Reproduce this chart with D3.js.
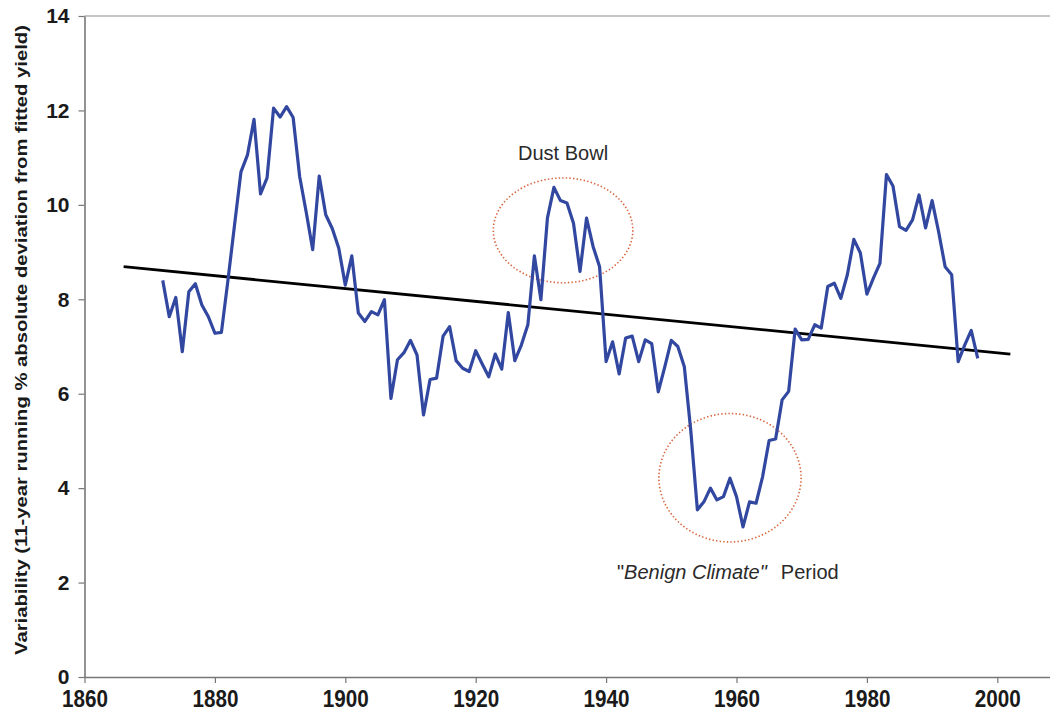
<!DOCTYPE html>
<html>
<head>
<meta charset="utf-8">
<script src="https://cdn.jsdelivr.net/npm/d3@7"></script>
<style>
  html, body { margin: 0; padding: 0; background: #ffffff; }
  svg { display: block; }
  text { font-family: Arial, "Liberation Sans", sans-serif; }
</style>
</head>
<body>
<svg id="chart" width="1050" height="723"></svg>
<script>
// Yield variability: 11-year running % absolute deviation from fitted yield
const years = d3.range(1872, 1998);
const variability = [
  8.40, 7.63, 8.04, 6.89, 8.16, 8.33, 7.88, 7.63, 7.28, 7.30,
  8.40, 9.56, 10.70, 11.06, 11.81, 10.23, 10.57, 12.05, 11.86, 12.08,
  11.85, 10.60, 9.85, 9.05, 10.61, 9.79, 9.50, 9.08, 8.30, 8.92,
  7.71, 7.53, 7.74, 7.67, 7.99, 5.90, 6.72, 6.87, 7.13, 6.82,
  5.55, 6.30, 6.33, 7.22, 7.42, 6.70, 6.54, 6.47, 6.91, 6.63,
  6.36, 6.84, 6.52, 7.72, 6.70, 7.03, 7.46, 8.92, 7.99, 9.72,
  10.37, 10.09, 10.04, 9.61, 8.59, 9.72, 9.12, 8.69, 6.68, 7.10,
  6.42, 7.18, 7.22, 6.68, 7.14, 7.06, 6.04, 6.57, 7.13, 7.00,
  6.57, 5.20, 3.54, 3.71, 4.00, 3.75, 3.82, 4.21, 3.82, 3.18,
  3.71, 3.68, 4.24, 5.01, 5.04, 5.87, 6.05, 7.37, 7.14, 7.15,
  7.46, 7.39, 8.27, 8.34, 8.02, 8.52, 9.27, 8.98, 8.11, 8.45,
  8.76, 10.64, 10.40, 9.54, 9.46, 9.68, 10.21, 9.51, 10.09, 9.43,
  8.69, 8.52, 6.68, 7.03, 7.34, 6.75
];

// Linear trend end points [year, value]
const trendYears = [1866, 2002];
const trendValues = [8.69, 6.84];

// Tick labels
const xTicks = [1860, 1880, 1900, 1920, 1940, 1960, 1980, 2000];
const yTicks = [0, 2, 4, 6, 8, 10, 12, 14];

// Highlighted periods: centre year, centre value, half-width (years), half-height (value)
const highlightNames = ["Dust Bowl", "Benign Climate"];
const highlightCentreYear = [1933.4, 1959.0];
const highlightCentreValue = [9.46, 4.22];
const highlightHalfYears = [10.7, 10.9];
const highlightHalfValue = [1.11, 1.36];

const svg = d3.select("#chart");

const x = d3.scaleLinear().domain([1860, 2010]).range([84.5, 1062.5]);
const y = d3.scaleLinear().domain([0, 14]).range([677, 16]);

// Plot frame (top border)
svg.append("line")
  .attr("x1", x(1860)).attr("x2", 1050)
  .attr("y1", y(14)).attr("y2", y(14))
  .attr("stroke", "#8a8a8a").attr("stroke-width", 1.2);

// X axis
const gx = svg.append("g")
  .attr("transform", `translate(0,${y(0)})`)
  .call(d3.axisBottom(x).tickValues(xTicks).tickFormat(d3.format("d")).tickSize(6).tickSizeOuter(0));
gx.select(".domain").attr("stroke", "#777").attr("stroke-width", 1.6)
  .attr("d", `M${x(1860)},0.5H1050`);
gx.selectAll(".tick line").attr("stroke", "#777").attr("stroke-width", 1.2);
gx.selectAll(".tick text")
  .attr("fill", "#1a1a1a")
  .attr("font-size", 24).attr("font-weight", "bold")
  .attr("textLength", 46).attr("lengthAdjust", "spacingAndGlyphs")
  .attr("y", 13).attr("dy", "0.71em");

// Y axis
const gy = svg.append("g")
  .attr("transform", `translate(${x(1860)},0)`)
  .call(d3.axisLeft(y).tickValues(yTicks).tickSize(6).tickSizeOuter(0));
gy.select(".domain").attr("stroke", "#777").attr("stroke-width", 1.6);
gy.selectAll(".tick line").attr("stroke", "#777").attr("stroke-width", 1.2);
gy.selectAll(".tick text")
  .attr("fill", "#1a1a1a")
  .attr("font-size", 21).attr("font-weight", "bold")
  .attr("x", -15);

// Y axis title
svg.append("text")
  .attr("transform", `translate(27,340) rotate(-90)`)
  .attr("text-anchor", "middle")
  .attr("font-size", 17).attr("font-weight", "bold")
  .attr("textLength", 630).attr("lengthAdjust", "spacingAndGlyphs")
  .attr("fill", "#1a1a1a")
  .text("Variability (11-year running % absolute deviation from fitted yield)");

// Highlight ellipses
highlightNames.forEach((name, i) => {
  const cx = x(highlightCentreYear[i]);
  const cy = y(highlightCentreValue[i]);
  svg.append("ellipse")
    .attr("cx", cx).attr("cy", cy)
    .attr("rx", x(highlightCentreYear[i] + highlightHalfYears[i]) - cx)
    .attr("ry", cy - y(highlightCentreValue[i] + highlightHalfValue[i]))
    .attr("fill", "none")
    .attr("stroke", "#d8643c")
    .attr("stroke-width", 1.6)
    .attr("stroke-dasharray", "1.4,2.2");
});

// Trend line
svg.append("line")
  .attr("x1", x(trendYears[0])).attr("y1", y(trendValues[0]))
  .attr("x2", x(trendYears[1])).attr("y2", y(trendValues[1]))
  .attr("stroke", "#000").attr("stroke-width", 2.8);

// Variability series
const line = d3.line().x((d, i) => x(years[i])).y(d => y(d));
svg.append("path")
  .datum(variability)
  .attr("d", line)
  .attr("fill", "none")
  .attr("stroke", "#3248a0")
  .attr("stroke-width", 3.2)
  .attr("stroke-linejoin", "round");

// Annotations
svg.append("text")
  .attr("x", x(highlightCentreYear[0])).attr("y", 160)
  .attr("text-anchor", "middle")
  .attr("font-size", 20).attr("fill", "#2a2a2a")
  .text("Dust Bowl");

const benign = svg.append("text")
  .attr("x", 617).attr("y", 579)
  .attr("font-size", 20).attr("fill", "#2a2a2a");
benign.append("tspan").text("\"");
benign.append("tspan").attr("font-style", "italic").text("Benign Climate\"");
benign.append("tspan").attr("dx", 14).text("Period");
</script>
</body>
</html>
